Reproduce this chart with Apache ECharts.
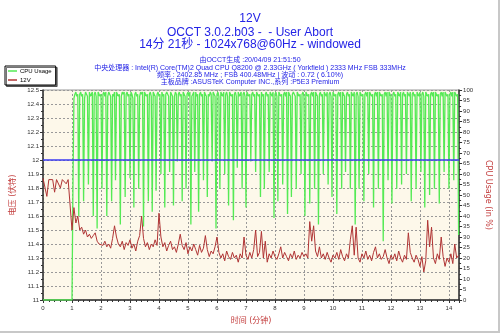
<!DOCTYPE html>
<html>
<head>
<meta charset="utf-8">
<script src="https://cdn.jsdelivr.net/npm/echarts@6/dist/echarts.min.js"></script>
<style>
html,body{margin:0;padding:0;background:#fff;}
#c{width:500px;height:333px;}
</style>
</head>
<body>
<div id="c"></div>
<script>
// ---- data ----
const cpuStepSeconds = 2;   // CPU usage sample spacing
const voltStepSeconds = 4;  // 12V sample spacing
const cpuUsage = [
0,0,0,0,0,0,0,0,0,0,0,0,0,0,0,0,0,0,0,0,0,0,0,0,0,0,0,0,0,0,0,
55,96,98,
99,97,98,40, 98,99,97,98,47, 96,99,98,97,55, 99,97,98,99,40, 98,99,97,34,
99,98,97,98,53, 98,99,97,99,40, 97,99,98,97,47, 98,97,99,57, 99,98,97,98,36,
97,99,98,99,49, 98,99,97,98,58, 99,98,96,44, 98,99,97,98,53, 97,99,98,99,35,
99,98,97,98,47, 98,99,97,42,
99,98,97,52, 98,99,97,98,60, 99,97,98,44, 98,99,98,97,61, 99,98,97,45,
97,99,98,66, 98,99,97,98,47, 99,98,97,53, 98,99,97,99,36, 97,98,99,61,
99,97,98,42, 98,99,97,98,57, 99,98,97,49, 98,97,99,98,66, 99,98,97,34,
98,99,97,53, 99,98,97,99,60, 98,99,97,45, 99,98,97,98,38, 98,99,97,63,
99,97,98,99,53, 98,99,97,44, 99,98,97,98,66, 98,99,97,98,61,
99,98,97,98,49, 99,97,98,53, 98,99,97,98,61, 99,98,97,99,39, 98,99,97,47,
99,98,97,98,55, 98,99,97,99,41, 99,98,97,49, 98,99,98,97,53, 99,98,97,98,60,
98,99,97,40, 99,98,97,98,46, 98,99,97,99,53, 99,98,97,36, 98,99,97,98,60,
99,98,97,99,55, 98,99,97,49, 99,98,97,98,41, 98,99,97,99,53, 99,98,97,61,
98,99,97,98,53, 99,98,97,99,36, 98,99,97,53,
99,98,97,98,47, 98,99,97,99,60, 99,98,97,98,44, 98,99,97,99,53, 99,98,97,98,28,
98,99,97,99,57, 99,98,97,46, 98,99,97,98,53, 99,98,97,99,55, 98,99,97,98,60,
99,98,97,99,47, 98,99,97,98,53, 99,98,97,99,61, 98,99,97,44, 99,98,97,98,50,
98,99,97,99,53, 99,98,97,98,46, 98,99,97,99,61, 99,98,97,98,53, 98,99,97,99,57,
99,98,97,98,31
];
const volt12 = [
11.87,11.86,11.74,11.86,11.87,11.86,11.77,11.86,11.87,11.80,11.86,11.87,11.83,11.86,11.87,
11.50,11.66,11.55,11.60,11.50,11.52,11.47,11.50,11.45,11.47,11.44,11.46,11.48,11.42,11.40,
11.41,11.39,11.42,11.38,11.40,11.37,11.44,11.53,11.45,11.40,11.38,11.42,11.36,11.41,11.39,
11.43,11.37,11.40,11.35,11.42,11.46,11.60,11.44,11.38,11.41,11.36,11.40,11.38,11.43,11.39,
11.62,11.45,11.38,11.41,11.35,11.39,11.42,11.36,11.38,11.34,11.40,11.47,11.39,11.36,11.41,
11.33,11.38,11.35,11.40,11.36,11.32,11.39,11.34,11.37,11.46,11.36,11.31,11.35,11.33,11.38,
11.45,11.34,11.30,11.33,11.28,11.35,11.31,11.29,11.34,11.30,11.32,11.27,11.33,11.30,11.45,
11.32,11.29,11.34,11.30,11.36,11.50,11.31,11.34,11.49,11.30,11.42,11.27,11.33,11.30,11.35,
11.31,11.29,11.33,11.38,11.30,11.34,11.31,11.28,11.33,11.30,11.35,11.29,11.32,11.30,11.34,
11.31,11.33,11.30,11.56,11.42,11.53,11.35,11.31,11.38,11.30,11.33,11.29,11.34,11.30,11.27,
11.32,11.30,11.34,11.29,11.36,11.31,11.28,11.33,11.30,11.43,11.53,11.32,11.52,11.30,11.27,
11.33,11.30,11.35,11.29,11.32,11.28,11.34,11.38,11.30,11.33,11.29,11.31,11.36,11.30,11.26,
11.32,11.29,11.33,11.28,11.35,11.30,11.27,11.32,11.29,11.48,11.34,11.30,11.27,11.32,11.29,
11.24,11.31,11.20,11.28,11.57,11.38,11.52,11.30,11.26,11.33,11.29,11.45,11.31,11.24,11.30,
11.27,11.33,11.26,11.40,11.30,11.32
];
const nominalVolt = 12;
const xTickLabels = ['0','1','2','3','4','5','6','7','8','9','10','11','12','13','14'];
const titleLines = ['12V', 'OCCT 3.0.2.b03 -  - User Abort', '14分 21秒 - 1024x768@60Hz - windowed'];
const infoLines = [
 '由OCCT生成 :20/04/09 21:51:50',
 '中央处理器 : Intel(R) Core(TM)2 Quad CPU Q8200 @ 2.33GHz ( Yorkfield ) 2333 MHz FSB 333MHz',
 '频率 : 2402.85 MHz ; FSB 400.48MHz | 波动 : 0.72 ( 6.10%)',
 '主板品牌 :ASUSTeK Computer INC.,系列 :P5E3 Premium'
];
const totalMinutes = 14.35;

// ---- chart ----
const cpuData = cpuUsage.map((v, i) => [i * cpuStepSeconds / 60, v]);
const voltData = volt12.map((v, i) => [i * voltStepSeconds / 60, v]);
const chart = echarts.init(document.getElementById('c'), null, {renderer: 'canvas'});
const blue = '#2323e6';
const axisRed = '#c23a3a';
const font = 'Tahoma, "DejaVu Sans", "Noto Sans CJK SC", sans-serif';
const smallFont = '"Liberation Sans", Arial, "Noto Sans CJK SC", sans-serif';
const green = '#55ea55';
const red = '#b03434';

const titleGraphics = [];
const titleY = [20, 34, 46];
const titleSize = [12, 12, 12];
titleLines.forEach((t, i) => titleGraphics.push({
  type: 'text', left: 'center', top: titleY[i] - titleSize[i] / 2 - 1,
  style: {text: t, fill: blue, font: titleSize[i] + 'px ' + smallFont}
}));
infoLines.forEach((t, i) => titleGraphics.push({
  type: 'text', left: 'center', top: 57 + i * 7.3,
  style: {text: t, fill: blue, font: '7px ' + smallFont}
}));

chart.setOption({
  backgroundColor: '#ffffff',
  animation: false,
  grid: {left: 43, right: 38, top: 90, bottom: 33, show: true,
         backgroundColor: '#fdf8ea', borderColor: '#999', borderWidth: 1},
  legend: {
    left: 5, top: 66, orient: 'vertical', itemWidth: 9, itemHeight: 1.5, itemGap: 3,
    icon: 'rect',
    padding: [2, 4, 2, 3], backgroundColor: '#fff', borderColor: '#000', borderWidth: 1,
    shadowColor: 'rgba(0,0,0,0.55)', shadowOffsetX: 1.5, shadowOffsetY: 1.5, shadowBlur: 0,
    textStyle: {fontSize: 6, color: '#000', fontFamily: smallFont, padding: [0,0,0,-2]},
    data: ['CPU Usage', '12V']
  },
  xAxis: {
    type: 'value', min: 0, max: totalMinutes, interval: 1,
    name: '时间 (分钟)', nameLocation: 'middle', nameGap: 17,
    nameTextStyle: {color: axisRed, fontSize: 8, fontFamily: font},
    axisLine: {show: true, lineStyle: {color: '#333', width: 1.5}},
    axisTick: {show: true, length: 3, lineStyle: {color: '#333'}},
    minorTick: {show: true, splitNumber: 5, length: 2, lineStyle: {color: '#333'}},
    axisLabel: {fontSize: 6, color: '#333', margin: 5, fontFamily: smallFont,
      formatter: v => (Number.isInteger(v) && v <= 14) ? xTickLabels[v] : ''},
    splitLine: {show: true, lineStyle: {color: '#999', type: [2, 2], width: 1}}
  },
  yAxis: [{
    type: 'value', min: 11, max: 12.5, interval: 0.1,
    name: '电压 (伏特)', nameLocation: 'middle', nameGap: 25,
    nameTextStyle: {color: axisRed, fontSize: 8, fontFamily: font},
    axisLine: {show: true, lineStyle: {color: '#333', width: 1.5}},
    axisTick: {show: true, length: 3, lineStyle: {color: '#333'}},
    minorTick: {show: true, splitNumber: 2, length: 2, lineStyle: {color: '#333'}},
    axisLabel: {fontSize: 6, color: '#333', margin: 4, fontFamily: smallFont,
      formatter: v => String(Math.round(v * 10) / 10)},
    splitLine: {show: true, lineStyle: {color: '#999', type: [2, 2], width: 1}}
  }, {
    type: 'value', min: 0, max: 100, interval: 5, position: 'right',
    name: 'CPU Usage (in %)', nameLocation: 'middle', nameGap: 22, nameRotate: -90,
    nameTextStyle: {color: axisRed, fontSize: 8, fontFamily: font},
    axisLine: {show: true, lineStyle: {color: '#333', width: 1.5}},
    axisTick: {show: true, length: 3, lineStyle: {color: '#333'}},
    minorTick: {show: true, splitNumber: 2, length: 2, lineStyle: {color: '#333'}},
    axisLabel: {fontSize: 6, color: '#333', margin: 4, fontFamily: smallFont},
    splitLine: {show: false}
  }],
  series: [{
    name: 'CPU Usage', type: 'line', yAxisIndex: 1, data: cpuData,
    symbol: 'none', lineStyle: {color: green, width: 1.3}, itemStyle: {color: green}
  }, {
    name: '12V', type: 'line', yAxisIndex: 0, data: voltData,
    symbol: 'none', lineStyle: {color: red, width: 1}, itemStyle: {color: red},
    markLine: {silent: true, symbol: 'none', label: {show: false},
      lineStyle: {color: '#3b3bf0', width: 1.5, type: 'solid'},
      data: [{yAxis: nominalVolt}]}
  }],
  graphic: titleGraphics.concat([
    {type: 'line', shape: {x1: 499, y1: 0, x2: 499, y2: 332}, style: {stroke: '#c8c8c8', lineWidth: 2}},
    {type: 'line', shape: {x1: 0, y1: 332, x2: 500, y2: 332}, style: {stroke: '#c8c8c8', lineWidth: 2}}
  ])
});
</script>
</body>
</html>
